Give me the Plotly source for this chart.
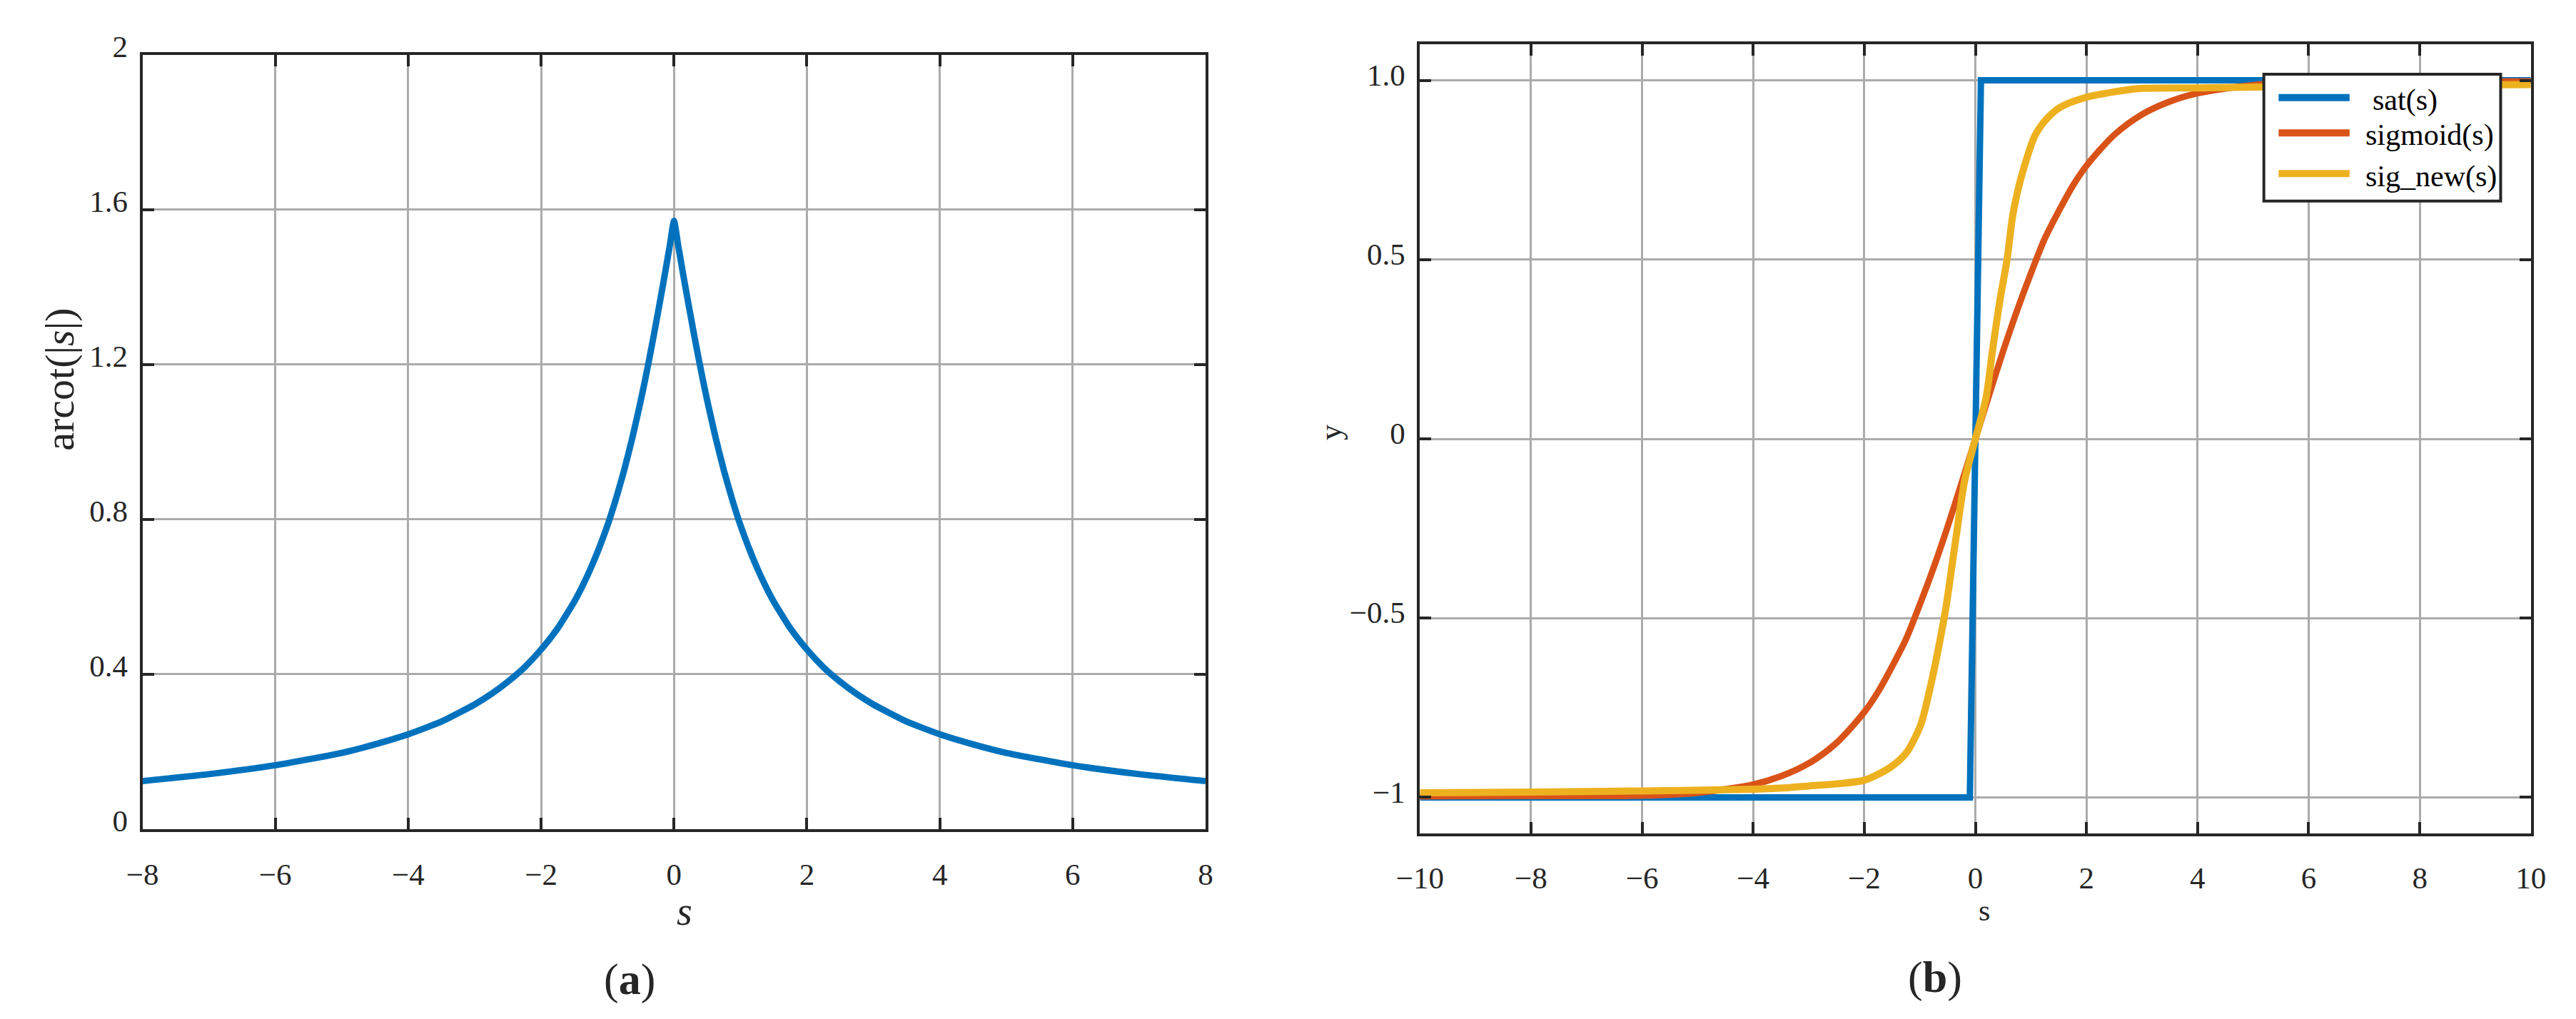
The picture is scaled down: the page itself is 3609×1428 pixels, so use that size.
import plotly.graph_objects as go

# ---------------- data ----------------
# (a) arcot(|s|), right half (curve is symmetric about s = 0)
s_half = [0, 0.0625, 0.125, 0.1875, 0.25, 0.3125, 0.375, 0.4375, 0.5, 0.625, 0.75, 0.875,
          1.0, 1.125, 1.25, 1.375, 1.5, 1.75, 2, 2.25, 2.5, 2.75, 3, 3.5, 4, 4.5, 5, 6, 7, 8]
arcot_half = [1.571, 1.508, 1.446, 1.385, 1.326, 1.268, 1.212, 1.158, 1.107, 1.012, 0.927,
              0.852, 0.785, 0.727, 0.675, 0.629, 0.588, 0.519, 0.464, 0.418, 0.381, 0.349,
              0.322, 0.278, 0.245, 0.219, 0.197, 0.165, 0.142, 0.124]
s_a = [-v for v in s_half[:0:-1]] + s_half
arcot_vals = arcot_half[:0:-1] + arcot_half

# (b) sat(s)
s_sat = [-10, -0.1, 0.1, 10]
sat_vals = [-1, -1, 1, 1]

# (b) sigmoid(s)
s_sig = [-10, -8, -6, -5, -4, -3.5, -3, -2.5, -2, -1.75, -1.5, -1.25, -1, -0.75, -0.5, -0.25,
         0, 0.25, 0.5, 0.75, 1, 1.25, 1.5, 1.75, 2, 2.5, 3, 3.5, 4, 5, 6, 8, 10]
sig_vals = [-0.997, -0.996, -0.995, -0.987, -0.964, -0.941, -0.905, -0.848, -0.762, -0.705,
            -0.635, -0.559, -0.462, -0.358, -0.245, -0.124, 0, 0.124, 0.245, 0.358, 0.462,
            0.559, 0.635, 0.705, 0.762, 0.848, 0.905, 0.941, 0.964, 0.987, 0.995, 0.9965, 0.997]

# (b) sig_new(s)
s_new = [-10, -8, -6, -4, -3.4, -3, -2.5, -2, -1.54, -1.25, -0.99, -0.82, -0.66, -0.53, -0.36,
         -0.19, 0, 0.19, 0.31, 0.44, 0.57, 0.67, 0.78, 0.9, 1.07, 1.28, 1.54, 2, 2.5, 2.93,
         4, 6, 8, 10]
new_vals = [-0.987, -0.985, -0.982, -0.977, -0.973, -0.968, -0.962, -0.952, -0.917, -0.877,
            -0.80, -0.698, -0.58, -0.47, -0.287, -0.114, 0, 0.113, 0.249, 0.385, 0.5, 0.621,
            0.703, 0.77, 0.845, 0.892, 0.926, 0.953, 0.968, 0.977, 0.979, 0.983, 0.986, 0.988]

series_names = ["sat(s)", "sigmoid(s)", "sig_new(s)"]
series_colors = ["#0072BD", "#D95319", "#EDB120"]

xa_ticks = [-8, -6, -4, -2, 0, 2, 4, 6, 8]
xa_text = ["\u22128", "\u22126", "\u22124", "\u22122", "0", "2", "4", "6", "8"]
ya_ticks = [0, 0.4, 0.8, 1.2, 1.6, 2]
ya_text = ["0", "0.4", "0.8", "1.2", "1.6", "2"]
xb_ticks = [-10, -8, -6, -4, -2, 0, 2, 4, 6, 8, 10]
xb_text = ["\u221210", "\u22128", "\u22126", "\u22124", "\u22122", "0", "2", "4", "6", "8", "10"]
yb_ticks = [-1, -0.5, 0, 0.5, 1.0]
yb_text = ["\u22121", "\u22120.5", "0", "0.5", "1.0"]

# ---------------- figure ----------------
W, H = 3609, 1428
FONT = "Liberation Serif"
DARK = "#262626"
GRID = "#ababab"

fig = go.Figure()
fig.add_trace(go.Scatter(x=s_a, y=arcot_vals, mode="lines",
                         line=dict(color="#0072BD", width=9, shape="spline", smoothing=0.5),
                         xaxis="x", yaxis="y", showlegend=False))
widths = [9, 9, 10]
shapes_ = ["linear", "spline", "spline"]
for xs, ys, nm, col, w, sh in zip([s_sat, s_sig, s_new], [sat_vals, sig_vals, new_vals],
                                  series_names, series_colors, widths, shapes_):
    line = dict(color=col, width=w, shape=sh)
    if sh == "spline":
        line["smoothing"] = 0.8
    fig.add_trace(go.Scatter(x=xs, y=ys, mode="lines", name=nm, line=line,
                             xaxis="x2", yaxis="y2", showlegend=False))


def px(x):
    return x / W


def py(y):
    return 1 - y / H


axis_common = dict(showline=True, linewidth=4, linecolor=DARK, mirror="ticks",
                   ticks="inside", ticklen=16, tickwidth=4, tickcolor=DARK,
                   showgrid=True, gridcolor=GRID, gridwidth=3, zeroline=False,
                   tickfont=dict(family=FONT, size=43, color=DARK), tickmode="array")

fig.update_layout(
    width=W, height=H, margin=dict(l=0, r=0, t=0, b=0),
    paper_bgcolor="white", plot_bgcolor="white",
    xaxis=dict(domain=[px(160), px(1673)], range=[-8, 8], tickvals=xa_ticks, ticktext=xa_text,
               anchor="y", ticklabelstandoff=22, **axis_common),
    yaxis=dict(domain=[py(1157), py(35)], range=[0, 2], tickvals=ya_ticks, ticktext=ya_text,
               anchor="x", ticklabelstandoff=8, ticklabelshift=-12, **axis_common),
    xaxis2=dict(domain=[px(1978), px(3559)], range=[-10, 10], tickvals=xb_ticks, ticktext=xb_text,
                anchor="y2", ticklabelstandoff=22, **axis_common),
    yaxis2=dict(domain=[py(1163), py(20)], range=[-1.1, 1.1], tickvals=yb_ticks, ticktext=yb_text,
                anchor="x2", ticklabelstandoff=8, ticklabelshift=-8, **axis_common),
    showlegend=False,
)

annotations = [
    dict(text="arcot(|<i>s</i>|)", x=px(42), y=py(505), textangle=-90, font=dict(size=58)),
    dict(text="<i>s</i>", x=px(931), y=py(1276), font=dict(size=56)),
    dict(text="y", x=px(1852), y=py(582), textangle=-90, font=dict(size=44)),
    dict(text="s", x=px(2781), y=py(1275), font=dict(size=42)),
    dict(text="(<b>a</b>)", x=px(853), y=py(1375), font=dict(size=62)),
    dict(text="(<b>b</b>)", x=px(2711), y=py(1372), font=dict(size=62)),
]
for a in annotations:
    a.update(xref="paper", yref="paper", showarrow=False, xanchor="center", yanchor="middle")
    a["font"].update(family=FONT, color=DARK)

# legend drawn as a box with line samples and text labels
shapes = [dict(type="rect", xref="paper", yref="paper", x0=px(3179), x1=px(3516),
               y0=py(247), y1=py(63), fillcolor="white", line=dict(color=DARK, width=4),
               layer="above")]
leg_y = [97, 148, 207]
leg_tx = [3332, 3322, 3322]
for nm, col, yy, tx in zip(series_names, series_colors, leg_y, leg_tx):
    shapes.append(dict(type="line", xref="paper", yref="paper", x0=px(3200), x1=px(3301),
                       y0=py(yy), y1=py(yy), line=dict(color=col, width=10), layer="above"))
    annotations.append(dict(text=nm, xref="paper", yref="paper", x=px(tx), y=py(yy + 4),
                            xanchor="left", yanchor="middle", showarrow=False,
                            font=dict(family=FONT, size=42, color="black")))

fig.update_layout(shapes=shapes, annotations=annotations)
fig.write_html("out.html")
